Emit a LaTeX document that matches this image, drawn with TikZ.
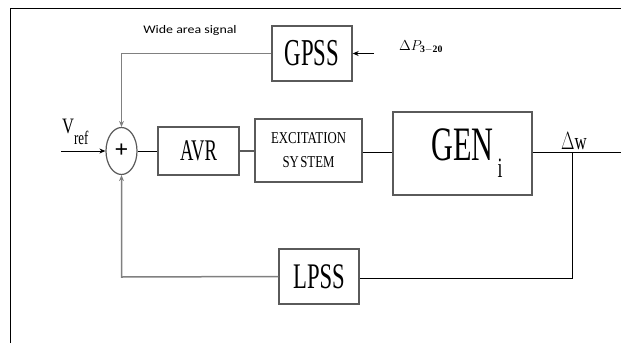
\documentclass[tikz,border=0pt]{standalone}
\usepackage{graphicx}
\usepackage{fontspec}
\setmainfont{Liberation Serif}
\newfontfamily\calfont{Carlito}
\usetikzlibrary{shapes.geometric,arrows.meta}
\newcommand{\sqz}[2]{\scalebox{#1}[1]{#2}}
\definecolor{boxgray}{HTML}{5A5A5A}
\definecolor{wiregray}{HTML}{808080}
\begin{document}
\begin{tikzpicture}[x=1pt,y=-1pt,
  blk/.style={draw=boxgray, line width=1.3pt, fill=white, inner sep=0pt},
  wire/.style={line width=1pt, draw=black},
  gwire/.style={line width=1.5pt, draw=wiregray},
  mwire/.style={line width=1.1pt, draw=boxgray},
  arr/.style={-{Stealth[length=6pt,width=5pt]}}]
\useasboundingbox (0,0) rectangle (621,343);
% frame
\coordinate (fbl) at (10,343);
\coordinate (ftl) at (10,8);
\coordinate (ftr) at (621,8);
\draw[wire] (fbl) -- (ftl) -- (ftr);
% blocks
\node[blk, minimum width=80, minimum height=55] (gpss) at (312,53.5)
  {\sqz{0.6}{\fontsize{38}{38}\selectfont GPSS}};
\node[blk, minimum width=81, minimum height=48] (avr) at (198.5,151)
  {\sqz{0.62}{\fontsize{30}{30}\selectfont AVR}};
\node[blk, minimum width=107, minimum height=63, align=center,
  font=\fontsize{16.6}{24}\selectfont] (exc) at (308.5,150.5)
  {\sqz{0.77}{EXCITATION}\\\sqz{0.77}{SY\kern2pt STEM}};
\node[blk, minimum width=139, minimum height=83] (gen) at (462.5,153.5)
  {\raisebox{4pt}{\sqz{0.63}{\fontsize{48}{48}\selectfont GEN}\rlap{\kern4pt\raisebox{-17pt}{\sqz{0.63}{\fontsize{28}{28}\selectfont i}}}}};
\node[blk, minimum width=80, minimum height=55] (lpss) at (319,276.5)
  {\sqz{0.63}{\fontsize{36}{36}\selectfont LPSS}};
\node[ellipse, draw=boxgray, line width=1.2pt, fill=white, inner sep=0pt,
  minimum width=31, minimum height=47] (sum) at (121.5,151)
  {\fontsize{24}{24}\selectfont\bfseries +};
% labels
\node[anchor=center, inner sep=0pt] (was) at (190,30)
  {\sqz{1.2}{\calfont\fontsize{11.6}{12}\selectfont Wide area signal}};
\node[anchor=base west, inner sep=0pt] (dp) at (399,50)
  {\fontsize{14}{14}\selectfont $\Delta P_{\mathbf{3-20}}$};
\node[anchor=base west, inner sep=0pt] (vref) at (62,133)
  {\sqz{0.75}{\fontsize{22}{22}\selectfont V}\raisebox{-11pt}{\sqz{0.68}{\fontsize{19}{19}\selectfont ref}}};
\node[anchor=base, inner sep=0pt] (dw) at (574,149)
  {\sqz{0.7}{\fontsize{24}{24}\selectfont $\Delta$w}};
% free ends
\coordinate (vin) at (61,151);
\coordinate (dpin) at (374,53.5);
\coordinate (gend) at (621,152);
\coordinate (br) at (572,152);
\coordinate (topc) at (121.5,53.5);
\coordinate (botc) at (121.5,277);
% connectors
\draw[wire, arr] (vin) -- (sum.west);
\draw[wire] (sum.east) -- (avr.west);
\draw[mwire] (avr.east) -- (exc.west |- avr.east);
\draw[wire] (exc.east |- 0,152) -- (gen.west |- 0,152);
\draw[wire] (gen.east |- gend) -- (gend);
\draw[wire] (br) -- (br |- 0,278) -- (lpss.east |- 0,278);
\draw[gwire, arr] (lpss.west) -- (botc) -- (sum.south);
\draw[gwire, arr] (gpss.west) -- (topc) -- (sum.north);
\draw[wire, arr] (dpin) -- (gpss.east);
\end{tikzpicture}
\end{document}
